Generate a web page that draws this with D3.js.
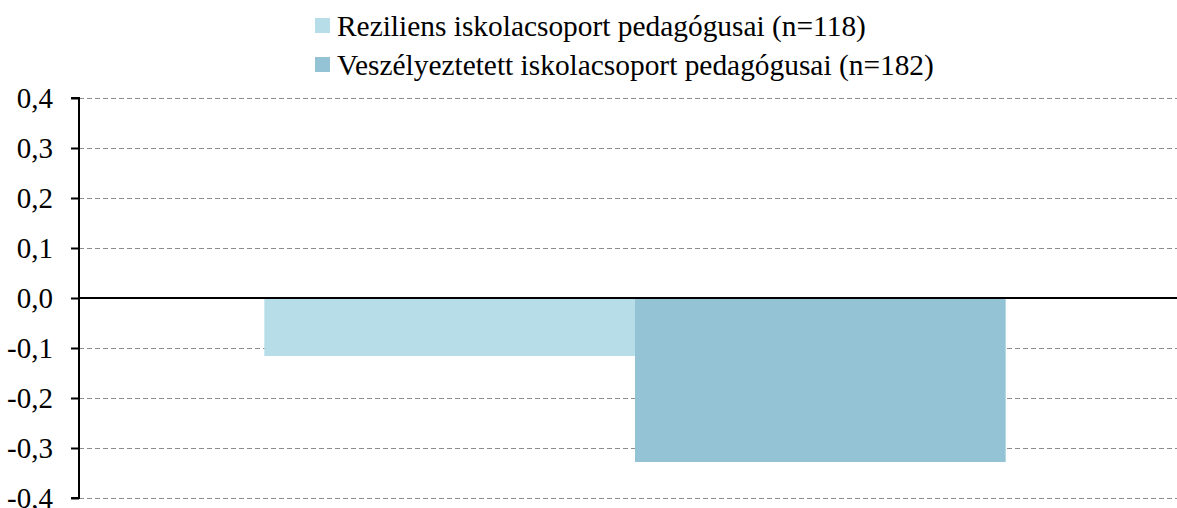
<!DOCTYPE html>
<html><head><meta charset="utf-8">
<script src="https://cdn.jsdelivr.net/npm/d3@7"></script>
<style>body{margin:0;background:#fff}svg{display:block}svg text{font-family:"Liberation Serif","Times New Roman",Times,Tinos,"Nimbus Roman","DejaVu Serif",serif}</style>
</head><body>
<svg id="c" width="1177" height="508"></svg>
<script>
const categories = ["all"];
const seriesNames = ["Reziliens iskolacsoport pedagógusai (n=118)", "Veszélyeztetett iskolacsoport pedagógusai (n=182)"];
const seriesValues = [-0.116, -0.328];
const seriesColors = ["#b7dde8", "#93c3d5"];
const yTicks = [0.4, 0.3, 0.2, 0.1, 0.0, -0.1, -0.2, -0.3, -0.4];

(function(){
const svg = d3.select("#c");
const pLeft = 79, pRight = 1191, pTop = 98, pBottom = 498;

const y = d3.scaleLinear().domain([-0.4, 0.4]).range([pBottom, pTop]);
const x0 = d3.scaleBand().domain(categories).range([pLeft, pRight]).paddingOuter(0.25).paddingInner(0);
const x1 = d3.scaleBand().domain(seriesNames).range([0, x0.bandwidth()]);

svg.append("g").selectAll("line").data(yTicks.filter(d => d !== 0)).join("line")
  .attr("x1", pLeft).attr("x2", 1177)
  .attr("y1", d => Math.round(y(d)) + 0.5).attr("y2", d => Math.round(y(d)) + 0.5)
  .attr("stroke", "#8c8c8c").attr("stroke-width", 1).attr("stroke-dasharray", "5,3");

svg.append("g").selectAll("rect").data(seriesNames.map((s, i) => ({s, v: seriesValues[i], c: seriesColors[i]}))).join("rect")
  .attr("x", d => x0("all") + x1(d.s))
  .attr("width", x1.bandwidth())
  .attr("y", d => y(Math.max(0, d.v)))
  .attr("height", d => Math.abs(y(d.v) - y(0)))
  .attr("fill", d => d.c);

svg.append("line").attr("x1", pLeft).attr("x2", 1177).attr("y1", y(0)).attr("y2", y(0))
  .attr("stroke", "#000").attr("stroke-width", 2);

const yAxis = d3.axisLeft(y).tickValues(yTicks).tickSize(8).tickPadding(18)
  .tickFormat(d => d3.format(".1f")(d).replace(".", ",").replace("−", "-"));
const ga = svg.append("g").attr("transform", `translate(${pLeft},0)`).call(yAxis);
ga.attr("font-family", null).attr("font-size", null);
ga.select(".domain").attr("stroke", "#000").attr("stroke-width", 2).attr("d", `M-8,${pTop}H0V${pBottom}H-8`).attr("fill", "none");
ga.selectAll(".tick line").attr("stroke", "#000").attr("stroke-width", 2);
ga.selectAll(".tick text").style("font-size", "29px").attr("fill", "#000").attr("dy", "0.34em");

const lg = svg.append("g");
seriesNames.forEach((s, i) => {
  const yy = 18 + i * 39;
  lg.append("rect").attr("x", 315).attr("y", yy).attr("width", 15).attr("height", 15).attr("fill", seriesColors[i]);
  lg.append("text").attr("x", 337).attr("y", yy + 18).style("font-size", "29.4px")
    .attr("fill", "#000").text(s);
});
})();
</script>
</body></html>
